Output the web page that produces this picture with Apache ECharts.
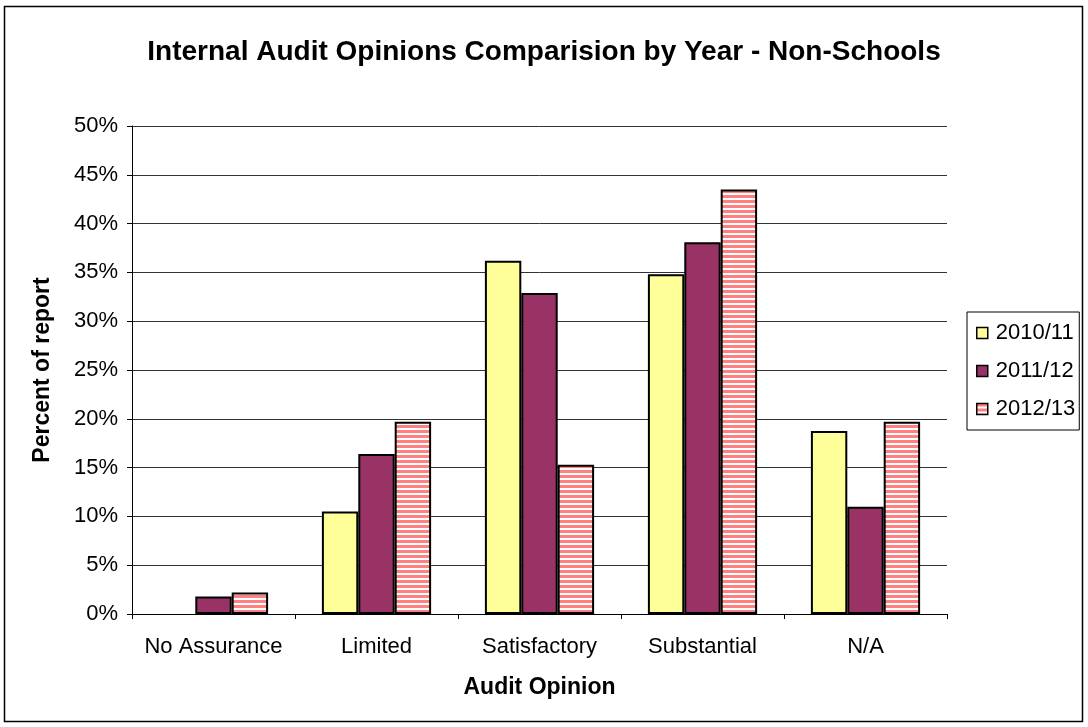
<!DOCTYPE html>
<html>
<head>
<meta charset="utf-8">
<script src="https://cdn.jsdelivr.net/npm/echarts@6/dist/echarts.min.js"></script>
<style>
html,body{margin:0;padding:0;background:#fff;}
#chart{width:1088px;height:727px;}
</style>
</head>
<body>
<div id="chart"></div>
<script>
const categories = ['No Assurance', 'Limited', 'Satisfactory', 'Substantial', 'N/A'];
const seriesNames = ['2010/11', '2011/12', '2012/13'];
const values2010 = [0, 10.5, 36.2, 34.8, 18.75];
const values2011 = [1.8, 16.4, 32.9, 38.1, 11.0];
const values2012 = [2.2, 19.7, 15.3, 43.5, 19.7];
const yTicks = [0, 5, 10, 15, 20, 25, 30, 35, 40, 45, 50];

const FONT = "'Liberation Sans', Arial, sans-serif";

// striped pattern for 2012/13
const pc = document.createElement('canvas');
pc.width = 8; pc.height = 5;
const pctx = pc.getContext('2d');
pctx.fillStyle = '#ffffff';
pctx.fillRect(0, 0, 8, 5);
pctx.fillStyle = '#ff8080';
pctx.fillRect(0, 0, 8, 3);
const stripe = { image: pc, repeat: 'repeat' };

const chart = echarts.init(document.getElementById('chart'), null, { renderer: 'canvas' });

// zero-height bars are drawn without an outline (as in the reference)
function toData(arr) {
  return arr.map(v => v === 0 ? { value: v, itemStyle: { borderWidth: 0 } } : v);
}

const barBase = {
  type: 'bar',
  barGap: '0%',
  barCategoryGap: '33%'
};

chart.setOption({
  backgroundColor: '#fff',
  animation: false,
  textStyle: { fontFamily: FONT },
  title: {
    text: 'Internal Audit Opinions Comparision by Year - Non-Schools',
    left: 'center',
    top: 33,
    textStyle: { fontFamily: FONT, fontSize: 28, fontWeight: 'bold', color: '#000' }
  },
  graphic: [{
    type: 'rect',
    shape: { x: 4.5, y: 6.5, width: 1078, height: 715 },
    style: { fill: 'none', stroke: '#000', lineWidth: 1.5 },
    silent: true, z: -1
  }],
  legend: {
    orient: 'vertical',
    left: 967,
    top: 312,
    data: seriesNames,
    itemWidth: 11,
    itemHeight: 11,
    itemGap: 16,
    icon: 'rect',
    padding: [10, 4, 10, 9],
    borderColor: '#000',
    borderWidth: 1,
    backgroundColor: '#fff',
    textStyle: { fontFamily: FONT, fontSize: 22, color: '#000', padding: [0, 0, 0, 3] },
    itemStyle: { borderColor: '#000', borderWidth: 1.5 }
  },
  grid: { left: 132, right: 141, top: 126, bottom: 113, containLabel: false },
  xAxis: {
    type: 'category',
    data: categories,
    name: 'Audit Opinion',
    nameLocation: 'middle',
    nameGap: 62,
    nameTextStyle: { fontFamily: FONT, fontSize: 23, fontWeight: 'bold', color: '#000' },
    axisLine: { lineStyle: { color: '#000', width: 1 } },
    axisTick: { show: true, alignWithLabel: false, length: 5, lineStyle: { color: '#000' } },
    axisLabel: { fontFamily: FONT, fontSize: 22, color: '#000', margin: 22, interval: 0 },
    splitLine: { show: false }
  },
  yAxis: {
    type: 'value',
    min: yTicks[0],
    max: yTicks[yTicks.length - 1],
    interval: yTicks[1] - yTicks[0],
    name: 'Percent of report',
    nameLocation: 'middle',
    nameGap: 78,
    nameRotate: 90,
    nameTextStyle: { fontFamily: FONT, fontSize: 23, fontWeight: 'bold', color: '#000' },
    axisLine: { show: true, lineStyle: { color: '#000', width: 1 } },
    axisTick: { show: true, inside: false, length: 5, lineStyle: { color: '#000' } },
    axisLabel: { fontFamily: FONT, fontSize: 22, color: '#000', margin: 14, formatter: '{value}%' },
    splitLine: { show: true, lineStyle: { color: '#333', width: 1 } }
  },
  series: [
    Object.assign({}, barBase, { name: seriesNames[0], data: toData(values2010), itemStyle: { color: '#ffff99', borderColor: '#000', borderWidth: 2 } }),
    Object.assign({}, barBase, { name: seriesNames[1], data: toData(values2011), itemStyle: { color: '#993366', borderColor: '#000', borderWidth: 2 } }),
    Object.assign({}, barBase, { name: seriesNames[2], data: toData(values2012), itemStyle: { color: stripe, borderColor: '#000', borderWidth: 2 } })
  ]
});
</script>
</body>
</html>
